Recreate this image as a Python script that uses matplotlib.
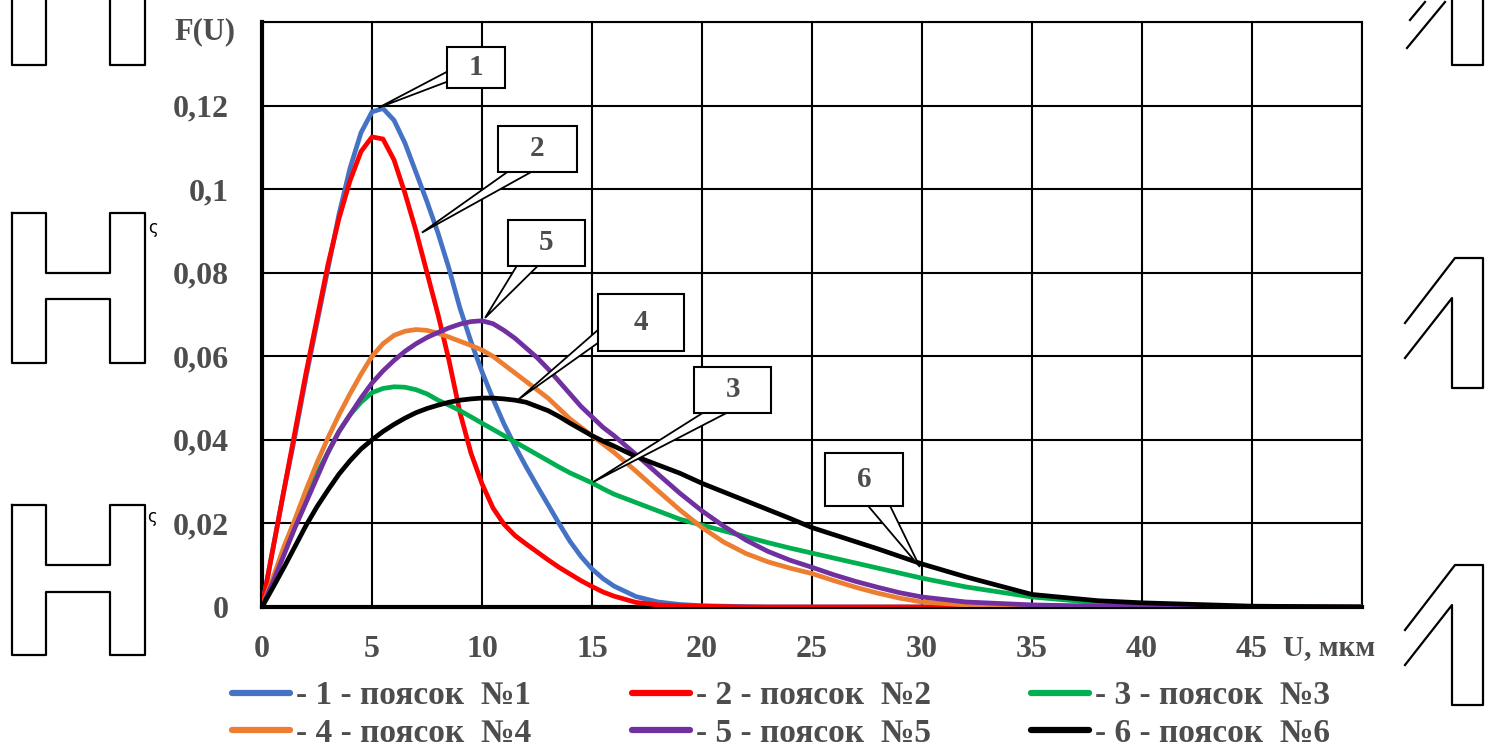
import matplotlib
matplotlib.use("Agg")
import matplotlib.pyplot as plt
from matplotlib.lines import Line2D
from matplotlib.patches import Polygon, Rectangle

# ---------------- data ----------------
x_main = [0, 0.5, 1, 1.5, 2, 2.5, 3, 3.5, 4, 4.5, 5, 5.5, 6, 6.5, 7, 7.5, 8, 8.5,
          9, 9.5, 10, 10.5, 11, 11.5, 12, 12.5, 13, 13.5, 14, 14.5, 15, 15.5, 16,
          17, 18, 19, 20, 21, 22, 23, 24, 25, 26, 27, 28, 29, 30,
          32, 35, 38, 40, 45, 50]

s1 = [0, .014, .028, .041, .055, .068, .081, .094, .105, .1135, .1185, .1193, .1165,
      .111, .104, .097, .0895, .081, .0715, .0635, .0563, .0498, .0438, .0385, .0336,
      .029, .0245, .020, .0157, .0121, .0091, .0068, .005,
      .0025, .0012, .0006, .0003, .0002, .0001, 0, 0, 0, 0, 0, 0, 0, 0,
      0, 0, 0, 0, 0, 0]
s2 = [0, .014, .028, .042, .056, .069, .082, .093, .102, .109, .1125, .112, .107,
      .099, .090, .080, .070, .059, .0465, .0368, .0295, .0237, .0198, .0171, .0151,
      .0132, .0113, .0095, .0079, .0063, .0049, .0036, .0026,
      .0011, .0005, .0003, .0002, .0001, 0, 0, 0, 0, 0, 0, 0, 0, 0,
      0, 0, 0, 0, 0, 0]
s3 = [0, .0065, .013, .0195, .026, .032, .037, .042, .046, .049, .0513, .0523, .0527,
      .0526, .052, .051, .0495, .0483, .047, .0455, .044, .0425, .041, .0395, .038,
      .0365, .035, .0335, .0321, .0309, .0297, .0283, .027,
      .025, .023, .021, .0196, .0182, .0168, .0154, .0141, .0129, .0117, .0105,
      .0093, .0081, .0069,
      .0048, .0024, .001, .0005, .0001, 0]
s4 = [0, .007, .0145, .021, .028, .0345, .0405, .046, .051, .0557, .060, .063, .065,
      .066, .0664, .0662, .0655, .0646, .0636, .0626, .0615, .060, .058, .056, .054,
      .052, .050, .0475, .045, .043, .041, .039, .037,
      .0325, .0278, .0232, .019, .0155, .0128, .0108, .0093, .008, .0063, .0047,
      .0033, .0021, .0012,
      .0005, .0002, .0001, 0, 0, 0]
s5 = [0, .006, .0125, .019, .025, .031, .037, .042, .046, .050, .0536, .0565, .059,
      .0612, .063, .0645, .0657, .0668, .0677, .0683, .0685, .0678, .0662, .0643,
      .062, .0597, .057, .054, .051, .048, .0455, .043, .041,
      .0365, .0318, .0272, .023, .0193, .016, .0133, .0112, .0095, .0077, .0061,
      .0047, .0034, .0024,
      .0012, .0005, .0002, .0001, 0, 0]
s6 = [0, .0047, .0095, .0145, .0195, .024, .028, .0318, .035, .0378, .040, .042,
      .0437, .0452, .0465, .0475, .0483, .049, .0495, .0498, .050, .050, .0498,
      .0495, .049, .048, .047, .0456, .044, .0425, .041, .0397, .0385,
      .036, .034, .032, .0296, .0275, .0254, .0233, .0212, .019, .0173, .0156,
      .0139, .0121, .0103,
      .0072, .003, .0015, .001, .0002, 0]

series = [s1, s2, s3, s4, s5, s6]
labels = ["- 1 - поясок  №1", "- 2 - поясок  №2", "- 3 - поясок  №3",
          "- 4 - поясок  №4", "- 5 - поясок  №5", "- 6 - поясок  №6"]
colors = ["#4472C4", "#FF0000", "#00B050", "#ED7D31", "#7030A0", "#000000"]

x_ticks = [0, 5, 10, 15, 20, 25, 30, 35, 40, 45, 50]
x_tick_labels = ["0", "5", "10", "15", "20", "25", "30", "35", "40", "45", ""]
y_ticks = [0, 0.02, 0.04, 0.06, 0.08, 0.10, 0.12, 0.14]
y_tick_labels = ["0", "0,02", "0,04", "0,06", "0,08", "0,1", "0,12", ""]

# callouts: label, box (x0, x1, y0, y1), base points, tip (data coords)
callouts = [
    ("1", (8.41, 11.05, 0.1241, 0.1341), [(8.41, 0.1281), (8.41, 0.1257)], (5.3, 0.1195)),
    ("2", (10.73, 14.32, 0.1042, 0.1152), [(11.18, 0.1042), (12.27, 0.1042)], (7.27, 0.0896)),
    ("5", (11.18, 14.68, 0.0817, 0.0927), [(11.59, 0.0817), (12.55, 0.0817)], (10.14, 0.0692)),
    ("4", (15.27, 19.18, 0.0613, 0.0750), [(15.27, 0.0663), (15.27, 0.0632)], (11.64, 0.0496)),
    ("3", (19.64, 23.14, 0.0465, 0.0575), [(20.05, 0.0465), (21.14, 0.0465)], (15.05, 0.0299)),
    ("6", (25.59, 29.14, 0.0242, 0.0369), [(27.55, 0.0242), (28.55, 0.0242)], (29.9, 0.0096)),
]

# ---------------- figure ----------------
W, H = 1490, 753
fig = plt.figure(figsize=(W / 100, H / 100), dpi=100)
fig.patch.set_facecolor("white")
ax = fig.add_axes([262 / W, (H - 607) / H, 1100 / W, 585 / H])

TXT = "#4d4d4d"
FONT = "Liberation Serif"

for s, c, lab in zip(series, colors, labels):
    ax.plot(x_main, s, color=c, lw=3.4, label=lab, solid_capstyle="round",
            solid_joinstyle="round", zorder=3)

ax.set_xlim(0, 50)
ax.set_ylim(0, 0.14)
ax.set_xticks(x_ticks)
ax.set_xticklabels(x_tick_labels)
ax.set_yticks(y_ticks)
ax.set_yticklabels(y_tick_labels)
ax.grid(True, color="black", lw=1.5, zorder=1)
ax.set_axisbelow(True)
ax.tick_params(length=0, labelsize=23, labelcolor=TXT)
ax.tick_params(axis="y", pad=24)
ax.tick_params(axis="x", pad=20)
for lab in ax.get_xticklabels() + ax.get_yticklabels():
    lab.set_fontfamily(FONT)
    lab.set_fontweight("bold")
for side in ["top", "right"]:
    ax.spines[side].set_linewidth(1.5)
for side in ["left", "bottom"]:
    ax.spines[side].set_linewidth(3)

# callouts
for lab, (bx0, bx1, by0, by1), base, tip in callouts:
    wedge = Polygon([base[0], tip, base[1]], closed=False, facecolor="white",
                    edgecolor="black", lw=1.3, zorder=5)
    ax.add_patch(wedge)
    rect = Rectangle((bx0, by0), bx1 - bx0, by1 - by0, facecolor="white",
                     edgecolor="black", lw=1.5, zorder=6)
    ax.add_patch(rect)
    ax.text((bx0 + bx1) / 2, (by0 + by1) / 2, lab, ha="center", va="center",
            fontsize=21, fontweight="bold", family=FONT, color=TXT, zorder=7)

# axis labels
fig.text(205 / W, 1 - 32 / H, "F(U)", ha="center", va="center", fontsize=22,
         fontweight="bold", family=FONT, color=TXT)
fig.text(1283 / W, 1 - 648 / H, "U, мкм", ha="left", va="center", fontsize=21,
         fontweight="bold", family=FONT, color=TXT)

# legend (row-major order like the original)
handles, labs = ax.get_legend_handles_labels()
order = [0, 3, 1, 4, 2, 5]
leg = fig.legend([handles[i] for i in order], [labs[i] for i in order],
                 ncol=3, loc="center left", bbox_to_anchor=(202 / W, 1 - 714.5 / H),
                 frameon=False, handlelength=1.75, handletextpad=0.18,
                 columnspacing=3.0, labelspacing=0.2,
                 prop={"family": FONT, "weight": "bold", "size": 24})
for t in leg.get_texts():
    t.set_color(TXT)
for h in leg.legend_handles:
    h.set_linewidth(4.5)

# scanning artefacts at the sides
def fig_line(pts, lw=1.6):
    xs = [p[0] / W for p in pts]
    ys = [1 - p[1] / H for p in pts]
    fig.add_artist(Line2D(xs, ys, color="black", lw=lw, transform=fig.transFigure))

def h_shape(top, cb1, cb2, bottom):
    fig_line([(12, top), (46, top), (46, cb1), (110, cb1), (110, top), (145, top),
              (145, bottom), (110, bottom), (110, cb2), (46, cb2), (46, bottom),
              (12, bottom), (12, top)])

fig_line([(12, 0), (12, 65), (46, 65), (46, 0)])
fig_line([(110, 0), (110, 65), (145, 65), (145, 0)])
h_shape(213, 273, 299, 363)
h_shape(505, 565, 592, 655)
fig.text(153 / W, 1 - 228 / H, "ς", fontsize=12, color="black", ha="center", va="center")
fig.text(152 / W, 1 - 517 / H, "ς", fontsize=12, color="black", ha="center", va="center")

def r_shape(top, bottom):
    fig_line([(1405, top + 65), (1455, top), (1483, top), (1483, bottom),
              (1452, bottom), (1452, top + 40), (1405, top + 100)])

fig_line([(1452, 0), (1452, 65), (1483, 65), (1483, 0)])
fig_line([(1407, 48), (1445, 2)])
fig_line([(1410, 20), (1425, 2)])
r_shape(258, 388)
r_shape(565, 705)

fig.savefig("out.png", dpi=100, facecolor="white")
